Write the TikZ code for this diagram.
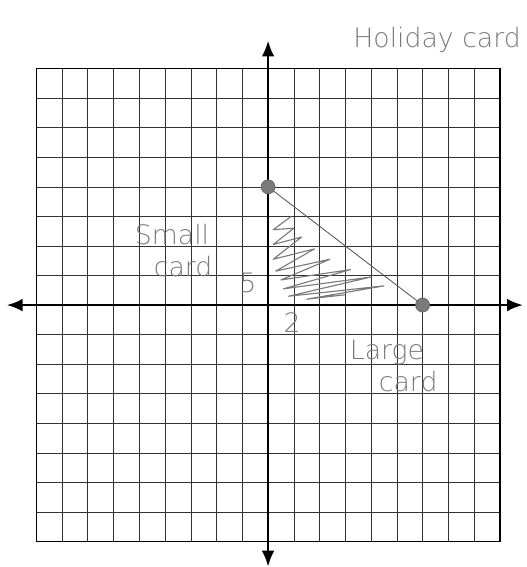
\documentclass[tikz,border=0pt]{standalone}
\usepackage{fontspec}
\usetikzlibrary{arrows.meta,positioning}
\newfontfamily\handfont{DejaVu Sans}[UprightFont={* ExtraLight}]
\definecolor{pencil}{HTML}{7A7A7A}

\begin{document}
\begin{tikzpicture}[x=0.64375cm, y=0.739cm,
  hand/.style={font=\handfont\fontsize{19}{19}\selectfont, text=pencil, inner sep=0pt},
  dot/.style={circle, fill=pencil, draw=pencil!80!black, minimum size=10pt, inner sep=0pt},
  axis/.style={line width=1.8pt, -{Latex[length=4mm,width=3.2mm]}}]
\useasboundingbox (-10.41,-8.86) rectangle (10.02,10.32);
% grid paper
\draw[line width=0.45pt, black!80, xstep=0.64375cm, ystep=0.739cm] (-9,-8) grid (9,8);
\draw[line width=1pt] (-9,-8) rectangle (9,8);
% axes
\coordinate (o) at (0,0);
\coordinate (top) at (0,8.95);
\coordinate (bot) at (0,-8.85);
\coordinate (lft) at (-10.15,0);
\coordinate (rgt) at (9.9,0);
\draw[axis] (o) -- (top);
\draw[axis] (o) -- (bot);
\draw[axis] (o) -- (lft);
\draw[axis] (o) -- (rgt);
% shaded region
\draw[pencil, line width=0.8pt, line join=round]
  (0.9,3.0) -- (0.2,2.55) -- (1.0,2.6) -- (0.2,2.05) -- (1.3,2.3) -- (0.2,1.55)
  -- (1.8,1.9) -- (0.3,1.15) -- (2.4,1.55) -- (0.5,0.85) -- (3.2,1.2) -- (0.6,0.55)
  -- (4.0,0.95) -- (0.8,0.3) -- (4.5,0.65) -- (1.5,0.2) -- (3.0,0.35);
% intercepts
\node[dot] (small) at (0,4) {};
\node[dot] (large) at (6,0) {};
\draw[pencil!70!black, line width=0.6pt] (small) -- (large);
% labels
\node[hand, anchor=west] (title) at (3.3,8.96) {Holiday card};
\node[hand] (smalla) at (-3.73,2.37) {Small};
\node[hand] (smallb) at (-3.3,1.29) {card};
\node[hand] (five) at (-0.78,0.74) {5};
\node[hand] (two) at (0.93,-0.58) {2};
\node[hand] (largea) at (4.62,-1.59) {Large};
\node[hand] (largeb) at (5.44,-2.6) {card};
\end{tikzpicture}
\end{document}
